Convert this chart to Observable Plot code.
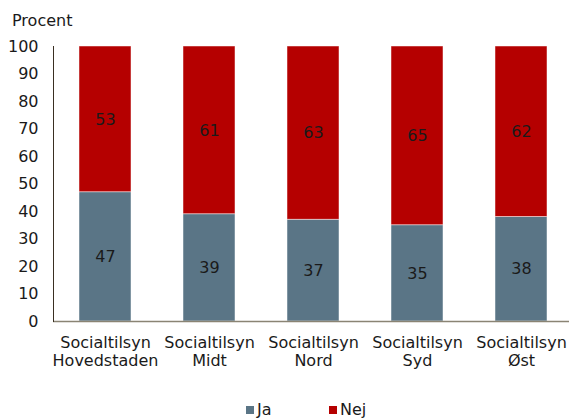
<!DOCTYPE html>
<html>
<head>
<meta charset="utf-8">
<script src="https://cdn.jsdelivr.net/npm/d3@7"></script>
<script src="https://cdn.jsdelivr.net/npm/@observablehq/plot@0.6"></script>
<style>
  html, body { margin: 0; padding: 0; background: #fff; overflow: hidden; }
  body { width: 569px; height: 419px; position: relative; font-family: "DejaVu Sans", Verdana, sans-serif; }
  #ylabel { position: absolute; left: 12px; top: 11px; font-size: 16px; color: #1a1a1a; }
  #legend { position: relative; font-size: 16px; color: #1a1a1a; height: 19px; }
  .item { position: absolute; top: 1px; display: flex; align-items: center; line-height: 17px; }
  .sw { width: 8px; height: 8px; display: inline-block; margin-right: 3px; }
</style>
</head>
<body>
<div id="chart"></div>
<div id="legend"></div>
<div id="ylabel">Procent</div>
<script>
const categories = ["Socialtilsyn\nHovedstaden", "Socialtilsyn\nMidt", "Socialtilsyn\nNord", "Socialtilsyn\nSyd", "Socialtilsyn\nØst"];
const series = ["Ja", "Nej"];
const ja = [47, 39, 37, 35, 38];
const nej = [53, 61, 63, 65, 62];
const colors = ["#5a7586", "#b50000"];
const yTicks = [0, 10, 20, 30, 40, 50, 60, 70, 80, 90, 100];

const data = [];
categories.forEach((c, i) => {
  data.push({cat: c, serie: "Ja", value: ja[i]});
  data.push({cat: c, serie: "Nej", value: nej[i]});
});

const plot = Plot.plot({
  width: 569,
  height: 400,
  marginTop: 46,
  marginBottom: 79,
  marginLeft: 53,
  marginRight: 0,
  style: {fontFamily: "DejaVu Sans, Verdana, sans-serif", fontSize: "16px", color: "#1a1a1a", background: "#fff"},
  x: {domain: categories, range: [53, 573], paddingInner: 0.5, paddingOuter: 0.25, label: null},
  y: {domain: [0, 100], label: null},
  color: {domain: series, range: colors},
  marks: [
    Plot.barY(data, Plot.stackY({x: "cat", y: "value", fill: "serie", z: "serie", order: series, stroke: "#ffffff", strokeOpacity: 0.6, strokeWidth: 0.8})),
    Plot.text(data, Plot.stackY({x: "cat", y: "value", z: "serie", text: "value", order: series, fill: "#1a1a1a", fontSize: 16})),
    Plot.ruleY([0], {stroke: "#8a8474", strokeWidth: 1.5}),
    Plot.frame({anchor: "left", stroke: "#3a2f22", strokeWidth: 1}),
    Plot.axisY({ticks: yTicks, tickSize: 0, tickPadding: 15, label: null, fontSize: 16}),
    Plot.axisX({tickSize: 0, tickPadding: 13, label: null, fontSize: 16, lineHeight: 1.15})
  ]
});
document.getElementById("chart").appendChild(plot);

const legend = document.getElementById("legend");
const legendX = [246, 329];
series.forEach((s, i) => {
  const it = document.createElement("span");
  it.className = "item";
  it.style.left = legendX[i] + "px";
  const sw = document.createElement("span");
  sw.className = "sw";
  sw.style.background = colors[i];
  it.appendChild(sw);
  it.appendChild(document.createTextNode(s));
  legend.appendChild(it);
});
</script>
</body>
</html>
